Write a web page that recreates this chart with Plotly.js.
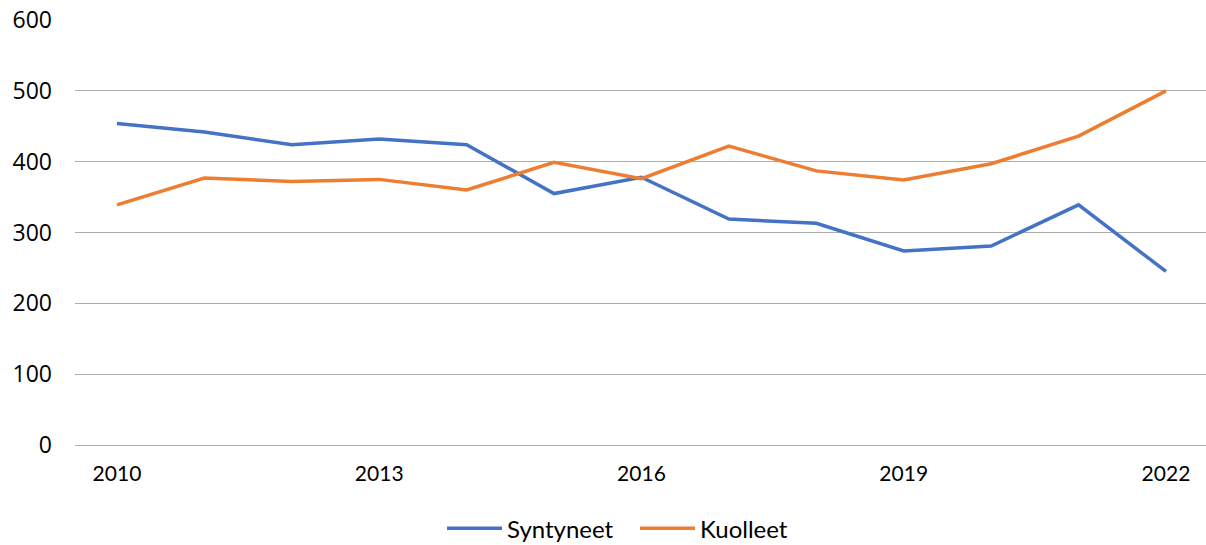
<!DOCTYPE html>
<html>
<head>
<meta charset="utf-8">
<script src="https://cdn.plot.ly/plotly-3.0.1.min.js"></script>
<style>html,body{margin:0;padding:0;background:#fff;}#chart{width:1206px;height:545px;}</style>
</head>
<body>
<div id="chart"></div>
<script>
const years = [2010, 2011, 2012, 2013, 2014, 2015, 2016, 2017, 2018, 2019, 2020, 2021, 2022];
const syntyneet = [454, 442, 424, 432, 424, 355, 378, 319, 313, 274, 281, 339, 245];
const kuolleet = [339, 377, 372, 375, 360, 399, 376, 422, 387, 374, 397, 436, 500];
const xTicks = [2010, 2013, 2016, 2019, 2022];
const yTicks = [0, 100, 200, 300, 400, 500, 600];

const traces = [
  {x: years, y: syntyneet, name: 'Syntyneet', type: 'scatter', mode: 'lines',
   line: {color: '#4472C4', width: 3.5}},
  {x: years, y: kuolleet, name: 'Kuolleet', type: 'scatter', mode: 'lines',
   line: {color: '#ED7D31', width: 3.5}}
];

const layout = {
  width: 1206, height: 545,
  margin: {l: 75, r: 0, t: 20, b: 100},
  paper_bgcolor: '#fff', plot_bgcolor: '#fff',
  showlegend: true,
  legend: {orientation: 'h', xref: 'container', yref: 'container',
           x: 442 / 1206, xanchor: 'left', y: 0.03, yanchor: 'middle',
           font: {family: 'Lato, sans-serif', size: 24, color: '#000'},
           itemwidth: 55, entrywidth: 123},
  xaxis: {
    type: 'linear', range: [2009.52, 2022.458],
    tickvals: xTicks, ticktext: xTicks.map(String),
    showgrid: false, zeroline: false, showline: false, ticks: '',
    ticklabelstandoff: 14,
    tickfont: {family: 'Lato, sans-serif', size: 21, color: '#000'}
  },
  yaxis: {
    range: [0, 600], tickvals: yTicks, ticktext: yTicks.map(String),
    showgrid: true, gridcolor: '#ABABAB', gridwidth: 1,
    zeroline: true, zerolinecolor: '#ABABAB', zerolinewidth: 1,
    showline: false, ticks: '', ticklabelstandoff: 22,
    tickfont: {family: '"Open Sans", sans-serif', size: 23, color: '#000'}
  }
};

Plotly.newPlot('chart', traces, layout, {displayModeBar: false, staticPlot: true});
</script>
</body>
</html>
